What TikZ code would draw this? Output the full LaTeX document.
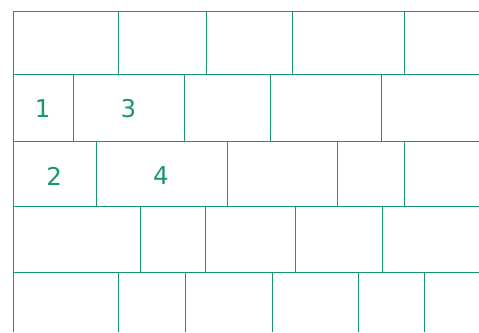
\documentclass[tikz,border=0pt]{standalone}
\usepackage{fontspec}
\setmainfont{DejaVu Sans}
\definecolor{brickG}{RGB}{24,152,106}

\begin{document}
\begin{tikzpicture}[x=1pt, y=-1pt, line width=1pt,
  joint/.style={draw=brickG},
  num/.style={text=brickG, font=\fontsize{24.5}{28}\selectfont, inner sep=0pt}]
  \useasboundingbox (0,0) rectangle (479,332);
  % bed joints and left edge
  \foreach \y in {11,74,141,206,272}
    \draw[joint] (13,\y) -- (479,\y);
  \draw[joint] (13,11) -- (13,332);
  % head joints, course by course
  \foreach \x in {118.5,206,292.3,404}
    \draw[joint] (\x,11) -- (\x,74);
  \foreach \x in {73.5,184,270.3,381.3}
    \draw[joint] (\x,74) -- (\x,141);
  \foreach \x in {96.3,227,337.7,404}
    \draw[joint] (\x,141) -- (\x,206);
  \foreach \x in {140.3,205.7,295.3,382.3}
    \draw[joint] (\x,206) -- (\x,272);
  \foreach \x in {118,185,272,358.7,424.7}
    \draw[joint] (\x,272) -- (\x,332);
  % brick numbers
  \node[num] (b1) at (42.7,108.3) {1};
  \node[num] (b3) at (128.3,108.3) {3};
  \node[num] (b2) at (54.2,176) {2};
  \node[num] (b4) at (161,176) {4};
\end{tikzpicture}
\end{document}
